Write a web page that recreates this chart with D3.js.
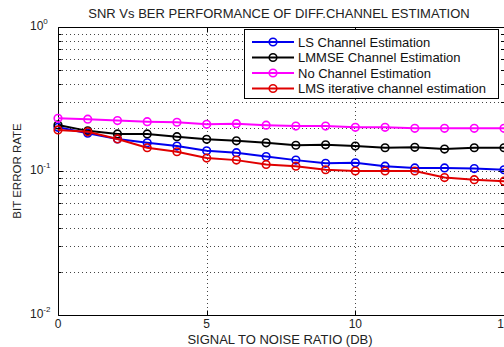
<!DOCTYPE html>
<html>
<head>
<meta charset="utf-8">
<script src="https://cdn.jsdelivr.net/npm/d3@7"></script>
<style>
  html, body { margin: 0; padding: 0; background: #fff; }
  svg { display: block; font-family: "Liberation Sans", Arial, sans-serif; }
</style>
</head>
<body>
<svg id="chart" width="504" height="347"></svg>
<script>
// SNR axis (dB)
const snr = [0, 1, 2, 3, 4, 5, 6, 7, 8, 9, 10, 11, 12, 13, 14, 15];

// Bit error rate per estimator
const berLS    = [0.201, 0.183, 0.167, 0.157, 0.149, 0.138, 0.134, 0.126, 0.119, 0.113, 0.114, 0.108, 0.105, 0.105, 0.104, 0.102];
const berLMMSE = [0.209, 0.190, 0.181, 0.181, 0.173, 0.166, 0.162, 0.157, 0.151, 0.152, 0.149, 0.145, 0.146, 0.142, 0.145, 0.145];
const berNone  = [0.232, 0.229, 0.224, 0.220, 0.218, 0.211, 0.213, 0.208, 0.205, 0.205, 0.201, 0.201, 0.198, 0.198, 0.198, 0.198];
const berLMS   = [0.193, 0.187, 0.167, 0.145, 0.136, 0.123, 0.119, 0.111, 0.108, 0.102, 0.100, 0.100, 0.100, 0.090, 0.087, 0.085];

const seriesNames  = ["LS Channel Estimation", "LMMSE Channel Estimation", "No Channel Estimation", "LMS iterative channel estimation"];
const seriesColors = ["#0000ee", "#000000", "#ff00ff", "#e00000"];
const seriesValues = [berLS, berLMMSE, berNone, berLMS];

const xTicks = [0, 5, 10, 15];
const yDecades = [0.01, 0.1, 1];

const titleText = "SNR Vs BER PERFORMANCE OF DIFF.CHANNEL ESTIMATION";
const xLabel = "SIGNAL TO NOISE RATIO (DB)";
const yLabel = "BIT ERROR RATE";

const svg = d3.select("#chart");
const m = { left: 58, right: 504, top: 27, bottom: 315 };

const x = d3.scaleLinear().domain([0, 15]).range([m.left, m.right]);
const y = d3.scaleLog().domain([0.01, 1]).range([m.bottom, m.top]);

// minor log positions 2..9 within each decade, plus decades
const minorVals = [];
[0.01, 0.1].forEach(d => { for (let k = 2; k <= 9; k++) minorVals.push(d * k); });
const gridY = minorVals.concat([0.1]);

const grid = svg.append("g").attr("stroke", "#444").attr("stroke-width", 1)
  .attr("stroke-dasharray", "1,3").attr("fill", "none");
gridY.forEach(v => {
  const yy = Math.round(y(v)) + 0.5;
  grid.append("line").attr("x1", m.left).attr("x2", m.right).attr("y1", yy).attr("y2", yy);
});
[5, 10].forEach(v => {
  const xx = Math.round(x(v)) + 0.5;
  grid.append("line").attr("x1", xx).attr("x2", xx).attr("y1", m.top).attr("y2", m.bottom);
});

// axes box with inward ticks
const axisG = svg.append("g").attr("stroke", "#000").attr("fill", "none");
const L = m.left + 0.5, B = m.bottom + 0.5, T = m.top + 0.5, R = m.right - 0.5;
axisG.append("line").attr("x1", L).attr("x2", L).attr("y1", T).attr("y2", B);
axisG.append("line").attr("x1", L).attr("x2", m.right + 2).attr("y1", B).attr("y2", B);
axisG.append("line").attr("x1", L).attr("x2", m.right + 2).attr("y1", T).attr("y2", T);

xTicks.forEach(v => {
  const xx = Math.round(x(v)) + 0.5;
  axisG.append("line").attr("x1", xx).attr("x2", xx).attr("y1", B).attr("y2", B - 5);
  axisG.append("line").attr("x1", xx).attr("x2", xx).attr("y1", T).attr("y2", T + 5);
});
yDecades.concat(minorVals).forEach(v => {
  const yy = Math.round(y(v)) + 0.5;
  const len = yDecades.includes(v) ? 5 : 3;
  axisG.append("line").attr("x1", L).attr("x2", L + len).attr("y1", yy).attr("y2", yy);
  axisG.append("line").attr("x1", m.right).attr("x2", m.right - len).attr("y1", yy).attr("y2", yy);
});

// tick labels
const labG = svg.append("g").attr("fill", "#222").attr("font-size", 12);
xTicks.forEach(v => {
  labG.append("text").attr("x", x(v)).attr("y", 328).attr("text-anchor", "middle").text(v);
});
yDecades.forEach(v => {
  const t = labG.append("text").attr("x", 30).attr("y", y(v) + 3);
  t.append("tspan").text("10");
  t.append("tspan").attr("font-size", 8).attr("dy", -6).text(Math.round(Math.log10(v)));
});

// series lines + markers
const line = d3.line().x((d, i) => x(snr[i])).y(d => y(d));
seriesValues.forEach((vals, si) => {
  const c = seriesColors[si];
  svg.append("path").datum(vals).attr("d", line)
    .attr("fill", "none").attr("stroke", c).attr("stroke-width", 2);
  svg.append("g").selectAll("circle").data(vals).join("circle")
    .attr("cx", (d, i) => x(snr[i])).attr("cy", d => y(d)).attr("r", 3.8)
    .attr("fill", "none").attr("stroke", c).attr("stroke-width", 1.6);
});

// legend
const lg = svg.append("g");
lg.append("rect").attr("x", 244.5).attr("y", 29.5).attr("width", 254).attr("height", 69)
  .attr("fill", "#fff").attr("stroke", "#000").attr("stroke-width", 1);
seriesNames.forEach((name, i) => {
  const yy = 42 + i * 15.5;
  const c = seriesColors[i];
  lg.append("line").attr("x1", 252).attr("x2", 294).attr("y1", yy).attr("y2", yy)
    .attr("stroke", c).attr("stroke-width", 2);
  lg.append("circle").attr("cx", 273).attr("cy", yy).attr("r", 3.8)
    .attr("fill", "none").attr("stroke", c).attr("stroke-width", 1.6);
  lg.append("text").attr("x", 298).attr("y", yy + 4.5).attr("font-size", 13)
    .attr("fill", "#111").text(name);
});

// title and axis labels
svg.append("text").attr("x", 279).attr("y", 18).attr("text-anchor", "middle")
  .attr("font-size", 13).attr("fill", "#222").text(titleText);
svg.append("text").attr("x", 280).attr("y", 344).attr("text-anchor", "middle")
  .attr("font-size", 13).attr("fill", "#222").text(xLabel);
svg.append("text").attr("transform", "translate(21,171) rotate(-90)").attr("text-anchor", "middle")
  .attr("font-size", 11.5).attr("fill", "#222").text(yLabel);
</script>
</body>
</html>
